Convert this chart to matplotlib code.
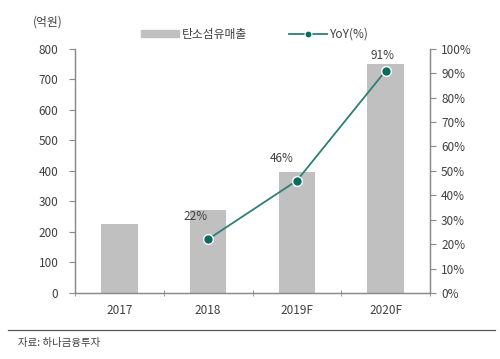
import numpy as np
import matplotlib.pyplot as plt
from matplotlib.lines import Line2D
from matplotlib.patches import Patch

plt.rcParams['font.family'] = ['Noto Sans CJK KR', 'DejaVu Sans']

years = ['2017', '2018', '2019F', '2020F']
sales = [225, 272, 397, 750]          # 탄소섬유매출 (억원)
yoy_years = ['2018', '2019F', '2020F']
yoy = [22, 46, 91]                    # YoY (%)

bar_color = '#c0c0c0'
line_color = '#2e7f74'
marker_color = '#0b6b5e'
text_color = '#404040'
axis_color = '#8a8a8a'

fig = plt.figure(figsize=(5, 3.59), dpi=100)
ax = fig.add_axes([0.15, 0.184, 0.71, 0.68])
ax2 = ax.twinx()

x = np.arange(len(years))
ax.bar(x, sales, width=0.41, color=bar_color, zorder=1)
ax.set_xlim(-0.5, 3.5)
ax.set_ylim(0, 800)
ax.set_yticks(np.arange(0, 801, 100))

xl = [years.index(y) for y in yoy_years]
ax2.plot(xl, yoy, color=line_color, lw=1.3, marker='o', ms=7,
         mfc=marker_color, mec='white', mew=1.0, zorder=3)
ax2.set_ylim(0, 100)
ax2.set_yticks(np.arange(0, 101, 10))
ax2.set_yticklabels([f'{v}%' for v in range(0, 101, 10)])

# label offsets in points (dx, dy)
label_offsets = [(-9, 12), (-11, 11), (-2, 6)]
for xi, v, (dx, dy) in zip(xl, yoy, label_offsets):
    ax2.annotate(f'{v}%', (xi, v), xytext=(dx, dy), textcoords='offset points',
                 ha='center', va='bottom', fontsize=8.5, color=text_color)

ax.set_xticks(x)
ax.set_xticklabels(years)
ax.set_xticks(np.arange(-0.5, 3.6, 1), minor=True)
ax.tick_params(axis='x', which='major', length=0, pad=8,
               labelsize=8.5, labelcolor=text_color)
ax.tick_params(axis='x', which='minor', length=5, direction='inout',
               color=axis_color)
ax.tick_params(axis='y', length=4, color=axis_color, labelsize=8.5,
               labelcolor=text_color, pad=8)
ax2.tick_params(axis='y', length=4, color=axis_color, labelsize=8.5,
                labelcolor=text_color, pad=4)

for a in (ax, ax2):
    a.spines['top'].set_visible(False)
    for s in ('left', 'right', 'bottom'):
        a.spines[s].set_color(axis_color)
        a.spines[s].set_linewidth(0.9)

fig.text(0.066, 0.93, '(억원)', fontsize=8.5, color=text_color)

handles = [Patch(color=bar_color),
           Line2D([], [], color=line_color, lw=1.3, marker='o', ms=5,
                  mfc=marker_color, mec='white', mew=0.8)]
fig.legend(handles, ['탄소섬유매출', 'YoY(%)'], loc='center',
           bbox_to_anchor=(0.51, 0.905), ncol=2, frameon=False,
           fontsize=8.5, labelcolor=text_color, handlelength=3.2,
           handleheight=0.5, columnspacing=3.5, handletextpad=0.3)

fig.add_artist(Line2D([0.016, 0.99], [0.08, 0.08], color='#555555', lw=0.9))
fig.text(0.036, 0.035, '자료: 하나금융투자', fontsize=7.5, color=text_color)

fig.savefig('out.png', dpi=100)
